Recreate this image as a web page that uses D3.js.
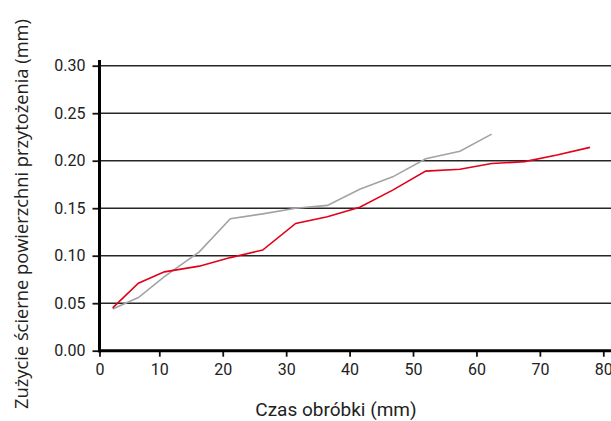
<!DOCTYPE html>
<html>
<head>
<meta charset="utf-8">
<script src="https://cdn.jsdelivr.net/npm/d3@7"></script>
<style>
	body { margin: 0; background: #fff; }
	.tick text { font-family: Roboto, sans-serif; font-size: 16px; fill: #222; }
</style>
</head>
<body>
<svg id="chart" width="611" height="421"></svg>
<script>
// Czas obróbki (x) and wear values
const xValues = [2.2, 6.5, 10.8, 16.3, 21.2, 26.3, 31.5, 36.5, 41.6, 46.8, 52, 57.4, 62.4, 67.6, 72.7, 77.9];
const redValues = [0.045, 0.071, 0.083, 0.089, 0.098, 0.106, 0.134, 0.141, 0.151, 0.169, 0.189, 0.191, 0.197, 0.199, 0.206, 0.214];
const grayValues = [0.044, 0.056, 0.078, 0.104, 0.139, 0.144, 0.150, 0.153, 0.170, 0.183, 0.202, 0.210, 0.228];

const xTicks = [0, 10, 20, 30, 40, 50, 60, 70, 80];
const yTicks = [0, 0.05, 0.10, 0.15, 0.20, 0.25, 0.30];

const width = 611,
	height = 421;

// first interval is a bit shorter in the original
const x = d3.scaleLinear()
	.domain([0, 10, 80])
	.range([99.5, 159.3, 603.3]);

const y = d3.scaleLinear()
	.domain([0, 0.30])
	.range([350.7, 65.7]);

const chart = d3.select('#chart');

// gridlines
chart.append('g')
	.selectAll('line')
	.data(yTicks.filter(d => d > 0))
	.enter()
	.append('line')
	.attr('x1', x(0))
	.attr('x2', width)
	.attr('y1', d => y(d))
	.attr('y2', d => y(d))
	.style('stroke', '#262626')
	.style('stroke-width', 1.4);

const xAxis = d3.axisBottom(x)
	.tickValues(xTicks)
	.tickFormat(d3.format('d'))
	.tickSize(6)
	.tickPadding(7);

const yAxis = d3.axisLeft(y)
	.tickValues(yTicks)
	.tickFormat(d3.format('.2f'))
	.tickSize(7)
	.tickPadding(7);

const gx = chart.append('g')
	.attr('transform', `translate(0, ${y(0)})`)
	.call(xAxis);

const gy = chart.append('g')
	.attr('transform', `translate(${x(0)}, 0)`)
	.call(yAxis);

gx.select('.domain').remove();
gy.select('.domain').remove();
chart.selectAll('.tick line').style('stroke', '#111').style('stroke-width', 1.8);

// thick axis lines
chart.append('line')
	.attr('x1', x(0) - 1.5).attr('x2', width)
	.attr('y1', y(0)).attr('y2', y(0))
	.style('stroke', '#000').style('stroke-width', 3);

chart.append('line')
	.attr('x1', x(0)).attr('x2', x(0))
	.attr('y1', 60).attr('y2', y(0) + 1.5)
	.style('stroke', '#000').style('stroke-width', 3);

const line = d3.line()
	.x((d, i) => x(xValues[i]))
	.y(d => y(d));

chart.append('path')
	.datum(grayValues)
	.attr('d', line)
	.style('fill', 'none')
	.style('stroke', '#a3a3a3')
	.style('stroke-width', 1.6);

chart.append('path')
	.datum(redValues)
	.attr('d', line)
	.style('fill', 'none')
	.style('stroke', '#e2001a')
	.style('stroke-width', 1.6);

// axis titles
chart.append('text')
	.attr('x', 336)
	.attr('y', 416)
	.attr('text-anchor', 'middle')
	.style('font-family', 'Roboto, sans-serif')
	.style('font-size', '19px')
	.style('fill', '#222')
	.text('Czas obróbki (mm)');

chart.append('text')
	.attr('transform', 'translate(28, 214) rotate(-90)')
	.attr('text-anchor', 'middle')
	.style('font-family', '"Open Sans", sans-serif')
	.style('font-size', '18.3px')
	.style('fill', '#222')
	.text('Zużycie ścierne powierzchni przytożenia (mm)');
</script>
</body>
</html>
